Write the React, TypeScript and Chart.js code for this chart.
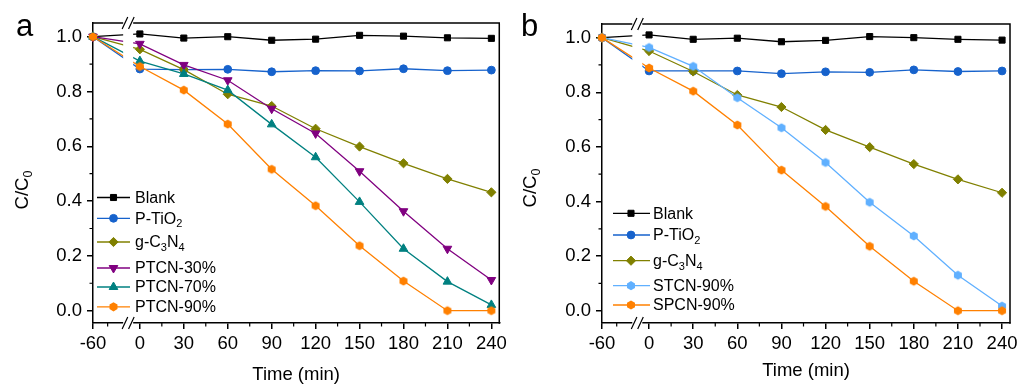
import React, { useEffect, useRef } from 'react';
import { Chart, registerables } from 'chart.js';

Chart.register(...registerables);

// ---------- data ----------
const TIME = [-60, 0, 30, 60, 90, 120, 150, 180, 210, 240];
const X_TICKS = [-60, 0, 30, 60, 90, 120, 150, 180, 210, 240];
const X_MINOR = [-50, 15, 45, 75, 105, 135, 165, 195, 225];
const Y_TICKS = [0, 0.2, 0.4, 0.6, 0.8, 1.0];
const Y_MINOR = [0.1, 0.3, 0.5, 0.7, 0.9];

const A_BLANK = [1.0, 1.01, 0.995, 1.0, 0.987, 0.991, 1.005, 1.002, 0.996, 0.994];
const A_PTIO2 = [1.0, 0.882, 0.88, 0.881, 0.872, 0.876, 0.875, 0.883, 0.876, 0.878];
const A_GCN = [1.0, 0.954, 0.88, 0.79, 0.747, 0.664, 0.599, 0.538, 0.481, 0.432];
const A_PTCN30 = [1.0, 0.974, 0.897, 0.841, 0.737, 0.647, 0.509, 0.363, 0.226, 0.112];
const A_PTCN70 = [1.0, 0.911, 0.864, 0.805, 0.68, 0.56, 0.397, 0.226, 0.106, 0.021];
const A_PTCN90 = [1.0, 0.891, 0.805, 0.681, 0.516, 0.383, 0.237, 0.108, 0.0, 0.0];

const B_BLANK = [1.0, 1.01, 0.994, 0.998, 0.985, 0.99, 1.004, 1.0, 0.994, 0.991];
const B_PTIO2 = [1.0, 0.878, 0.878, 0.878, 0.868, 0.875, 0.873, 0.882, 0.876, 0.878];
const B_GCN = [1.0, 0.951, 0.876, 0.79, 0.746, 0.662, 0.599, 0.537, 0.481, 0.432];
const B_STCN90 = [1.0, 0.964, 0.895, 0.78, 0.67, 0.543, 0.397, 0.274, 0.13, 0.017];
const B_SPCN90 = [1.0, 0.889, 0.804, 0.68, 0.515, 0.382, 0.236, 0.108, 0.0, 0.0];

const LABELS_A = ['Blank', 'P-TiO_2', 'g-C_3N_4', 'PTCN-30%', 'PTCN-70%', 'PTCN-90%'];
const LABELS_B = ['Blank', 'P-TiO_2', 'g-C_3N_4', 'STCN-90%', 'SPCN-90%'];

// broken axis: times before the break are shifted right by BREAK_SHIFT
const BREAK_SHIFT = 28;
const BREAK_AXIS = -8;
const toAxis = (t: number) => (t < 0 ? t + BREAK_SHIFT : t);

const FONT = "'Liberation Sans', Arial, sans-serif";

// ---------- styles ----------
const C_BLACK = '#000000';
const C_BLUE = '#1662CC';
const C_OLIVE = '#808000';
const C_PURPLE = '#800080';
const C_TEAL = '#008080';
const C_ORANGE = '#FF8000';
const C_LIGHTBLUE = '#60B0FF';

type Mk = { style: string; r: number; rot?: number };
const MK_SQ: Mk = { style: 'rect', r: 4.3 };
const MK_CI: Mk = { style: 'circle', r: 3.9 };
const MK_DI: Mk = { style: 'rectRot', r: 4.6 };
const MK_TD: Mk = { style: 'triangle', r: 5, rot: 180 };
const MK_TU: Mk = { style: 'triangle', r: 5 };
const MK_HX: Mk = { style: 'hex', r: 4.6 };

const hexCache: Record<string, HTMLCanvasElement> = {};
function hexImage(color: string, r: number) {
  const key = color + r;
  if (hexCache[key]) return hexCache[key];
  const s = Math.ceil(r * 2 + 2);
  const c = document.createElement('canvas');
  c.width = s;
  c.height = s;
  const g = c.getContext('2d')!;
  g.fillStyle = color;
  g.beginPath();
  for (let k = 0; k < 6; k++) {
    const a = (Math.PI / 3) * k - Math.PI / 2;
    const px = s / 2 + r * Math.cos(a);
    const py = s / 2 + r * Math.sin(a);
    if (k === 0) g.moveTo(px, py);
    else g.lineTo(px, py);
  }
  g.closePath();
  g.fill();
  hexCache[key] = c;
  return c;
}

function drawMarker(ctx: CanvasRenderingContext2D, mk: Mk, color: string, x: number, y: number) {
  ctx.save();
  ctx.fillStyle = color;
  ctx.strokeStyle = color;
  ctx.lineWidth = 1;
  ctx.beginPath();
  const r = mk.r;
  if (mk.style === 'rect') {
    const h = r * Math.SQRT1_2;
    ctx.rect(x - h, y - h, 2 * h, 2 * h);
  } else if (mk.style === 'circle') {
    ctx.arc(x, y, r, 0, Math.PI * 2);
  } else if (mk.style === 'rectRot') {
    ctx.moveTo(x, y - r);
    ctx.lineTo(x + r, y);
    ctx.lineTo(x, y + r);
    ctx.lineTo(x - r, y);
    ctx.closePath();
  } else if (mk.style === 'triangle') {
    let a = ((mk.rot || 0) * Math.PI) / 180;
    ctx.moveTo(x + Math.sin(a) * r, y - Math.cos(a) * r);
    a += (2 * Math.PI) / 3;
    ctx.lineTo(x + Math.sin(a) * r, y - Math.cos(a) * r);
    a += (2 * Math.PI) / 3;
    ctx.lineTo(x + Math.sin(a) * r, y - Math.cos(a) * r);
    ctx.closePath();
  } else if (mk.style === 'hex') {
    for (let k = 0; k < 6; k++) {
      const a = (Math.PI / 3) * k - Math.PI / 2;
      const px = x + r * Math.cos(a);
      const py = y + r * Math.sin(a);
      if (k === 0) ctx.moveTo(px, py);
      else ctx.lineTo(px, py);
    }
    ctx.closePath();
  }
  ctx.fill();
  if (mk.style !== 'hex') ctx.stroke();
  ctx.restore();
}

// draw text with "_x" subscripts
function drawRich(ctx: CanvasRenderingContext2D, text: string, x: number, y: number, size: number, subSize: number, subDrop: number, measureOnly = false) {
  const parts: { t: string; sub: boolean }[] = [];
  let i = 0;
  let buf = '';
  while (i < text.length) {
    if (text[i] === '_' && i + 1 < text.length) {
      if (buf) parts.push({ t: buf, sub: false });
      buf = '';
      parts.push({ t: text[i + 1], sub: true });
      i += 2;
    } else {
      buf += text[i];
      i++;
    }
  }
  if (buf) parts.push({ t: buf, sub: false });
  let cx = x;
  for (const p of parts) {
    ctx.font = `${p.sub ? subSize : size}px ${FONT}`;
    if (!measureOnly) ctx.fillText(p.t, cx, p.sub ? y + subDrop : y);
    cx += ctx.measureText(p.t).width;
  }
  return cx - x;
}

type Series = { label: string; data: number[]; color: string; mk: Mk };

type PanelCfg = {
  letter: string;
  letterX: number;
  series: Series[];
  width: number;
  area: { left: number; right: number; top: number; bottom: number };
  legend: { x0: number; x1: number; xm: number; xt: number; rows: number[] };
  yTitle: { x: number; y: number };
  xTitleY: number;
};

function buildChart(canvas: HTMLCanvasElement, cfg: PanelCfg) {
  const n = cfg.series.length;
  const datasets = cfg.series.map((s, i) => ({
    label: s.label,
    data: TIME.map((t, k) => ({ x: toAxis(t), y: s.data[k] })),
    borderColor: s.color,
    backgroundColor: s.color,
    borderWidth: 1.3,
    pointStyle: s.mk.style === 'hex' ? hexImage(s.color, s.mk.r) : s.mk.style,
    pointRadius: s.mk.r,
    pointRotation: s.mk.rot || 0,
    pointBorderWidth: 1,
    pointBorderColor: s.color,
    pointBackgroundColor: s.color,
    tension: 0,
    clip: false as any,
    order: n - 1 - i,
  }));

  const decor = {
    id: 'decor',
    afterDraw(chart: any) {
      const { ctx, chartArea: ca, scales } = chart;
      const x = scales.x;
      const y = scales.y;
      ctx.save();
      // top & right frame
      ctx.strokeStyle = '#000';
      ctx.lineWidth = 1.5;
      ctx.beginPath();
      ctx.moveTo(ca.left - 0.75, ca.top);
      ctx.lineTo(ca.right, ca.top);
      ctx.lineTo(ca.right, ca.bottom + 0.75);
      ctx.stroke();
      // minor ticks
      ctx.lineWidth = 1.2;
      ctx.beginPath();
      for (const t of X_MINOR) {
        const px = x.getPixelForValue(toAxis(t));
        ctx.moveTo(px, ca.bottom);
        ctx.lineTo(px, ca.bottom + 3.5);
      }
      for (const v of Y_MINOR) {
        const py = y.getPixelForValue(v);
        ctx.moveTo(ca.left, py);
        ctx.lineTo(ca.left - 3.5, py);
      }
      ctx.stroke();
      // axis break
      const bx = x.getPixelForValue(BREAK_AXIS);
      ctx.fillStyle = '#fff';
      ctx.fillRect(bx - 5, ca.top - 2, 10, ca.bottom - ca.top + 4);
      ctx.strokeStyle = '#000';
      ctx.lineWidth = 1.2;
      ctx.beginPath();
      for (const yy of [ca.top, ca.bottom]) {
        for (const dx of [-3.2, 3.2]) {
          ctx.moveTo(bx + dx - 2.8, yy + 6);
          ctx.lineTo(bx + dx + 2.8, yy - 6);
        }
      }
      ctx.stroke();
      // panel letter
      ctx.fillStyle = '#000';
      ctx.textBaseline = 'alphabetic';
      ctx.textAlign = 'left';
      ctx.font = `31px ${FONT}`;
      ctx.fillText(cfg.letter, cfg.letterX, 36);
      // x title
      ctx.font = `18.5px ${FONT}`;
      ctx.textAlign = 'center';
      ctx.fillText('Time (min)', (ca.left + ca.right) / 2, cfg.xTitleY);
      // y title
      ctx.textAlign = 'left';
      ctx.save();
      ctx.translate(cfg.yTitle.x, cfg.yTitle.y);
      ctx.rotate(-Math.PI / 2);
      const w = drawRich(ctx, 'C/C_0', 0, 0, 18.5, 12.5, 4.5, true);
      drawRich(ctx, 'C/C_0', -w / 2, 0, 18.5, 12.5, 4.5);
      ctx.restore();
      // legend
      const L = cfg.legend;
      ctx.textBaseline = 'middle';
      cfg.series.forEach((s, i) => {
        const ry = L.rows[i];
        ctx.strokeStyle = s.color;
        ctx.lineWidth = 1.3;
        ctx.beginPath();
        ctx.moveTo(L.x0, ry);
        ctx.lineTo(L.x1, ry);
        ctx.stroke();
        drawMarker(ctx, s.mk, s.color, L.xm, ry);
        ctx.fillStyle = '#000';
        drawRich(ctx, s.label, L.xt, ry + 1, 16, 11, 5);
      });
      ctx.restore();
    },
  };

  return new Chart(canvas, {
    type: 'line',
    data: { datasets: datasets as any },
    options: {
      responsive: false,
      animation: false,
      devicePixelRatio: 1,
      events: [],
      layout: {
        padding: {
          left: 0,
          top: cfg.area.top,
          right: cfg.width - cfg.area.right,
          bottom: 0,
        },
      },
      plugins: { legend: { display: false }, tooltip: { enabled: false } },
      scales: {
        x: {
          type: 'linear',
          min: toAxis(-60),
          max: 245.4,
          afterFit: (s: any) => {
            s.height = 385 - cfg.area.bottom;
          },
          afterBuildTicks: (s: any) => {
            s.ticks = X_TICKS.map((t) => ({ value: toAxis(t) }));
          },
          ticks: {
            autoSkip: false,
            maxRotation: 0,
            padding: 4,
            color: '#000',
            font: { family: FONT, size: 18.5 },
            callback: (_v: any, i: number) => String(X_TICKS[i]),
          },
          grid: { display: true, drawOnChartArea: false, drawTicks: true, tickLength: 6, color: '#000', lineWidth: 1.5 },
          border: { display: true, color: '#000', width: 1.5 },
        },
        y: {
          type: 'linear',
          min: -0.045,
          max: 1.05,
          afterFit: (s: any) => {
            s.width = cfg.area.left;
          },
          afterBuildTicks: (s: any) => {
            s.ticks = Y_TICKS.map((v) => ({ value: v }));
          },
          ticks: {
            autoSkip: false,
            padding: 5,
            color: '#000',
            font: { family: FONT, size: 18.5 },
            callback: (v: any) => Number(v).toFixed(1),
          },
          grid: { display: true, drawOnChartArea: false, drawTicks: true, tickLength: 6, color: '#000', lineWidth: 1.5 },
          border: { display: true, color: '#000', width: 1.5 },
        },
      },
    },
    plugins: [decor],
  } as any);
}

const PANEL_A: PanelCfg = {
  letter: 'a',
  letterX: 16,
  width: 511,
  area: { left: 93, right: 501, top: 23, bottom: 323 },
  series: [
    { label: LABELS_A[0], data: A_BLANK, color: C_BLACK, mk: MK_SQ },
    { label: LABELS_A[1], data: A_PTIO2, color: C_BLUE, mk: MK_CI },
    { label: LABELS_A[2], data: A_GCN, color: C_OLIVE, mk: MK_DI },
    { label: LABELS_A[3], data: A_PTCN30, color: C_PURPLE, mk: MK_TD },
    { label: LABELS_A[4], data: A_PTCN70, color: C_TEAL, mk: MK_TU },
    { label: LABELS_A[5], data: A_PTCN90, color: C_ORANGE, mk: MK_HX },
  ],
  legend: { x0: 97, x1: 130, xm: 113.5, xt: 135, rows: [197.5, 218.3, 242, 268, 287, 306.8] },
  yTitle: { x: 27.5, y: 190 },
  xTitleY: 380,
};

const PANEL_B: PanelCfg = {
  letter: 'b',
  letterX: 10,
  width: 512,
  area: { left: 91, right: 499, top: 24, bottom: 323 },
  series: [
    { label: LABELS_B[0], data: B_BLANK, color: C_BLACK, mk: MK_SQ },
    { label: LABELS_B[1], data: B_PTIO2, color: C_BLUE, mk: MK_CI },
    { label: LABELS_B[2], data: B_GCN, color: C_OLIVE, mk: MK_DI },
    { label: LABELS_B[3], data: B_STCN90, color: C_LIGHTBLUE, mk: MK_HX },
    { label: LABELS_B[4], data: B_SPCN90, color: C_ORANGE, mk: MK_HX },
  ],
  legend: { x0: 102, x1: 139, xm: 120, xt: 142, rows: [213.3, 235, 260.7, 285.7, 305] },
  yTitle: { x: 24.5, y: 188 },
  xTitleY: 376,
};

function Panel({ cfg, left }: { cfg: PanelCfg; left: number }) {
  const ref = useRef<HTMLCanvasElement>(null);
  useEffect(() => {
    const chart = buildChart(ref.current as HTMLCanvasElement, cfg);
    return () => chart.destroy();
  }, [cfg]);
  return (
    <canvas
      ref={ref}
      width={cfg.width}
      height={385}
      style={{ position: 'absolute', left, top: 0, width: cfg.width, height: 385, display: 'block' }}
    />
  );
}

export default function App() {
  return (
    <div style={{ position: 'absolute', left: 0, top: 0, width: 1023, height: 385, background: '#fff', overflow: 'hidden' }}>
      <Panel cfg={PANEL_A} left={0} />
      <Panel cfg={PANEL_B} left={511} />
    </div>
  );
}
